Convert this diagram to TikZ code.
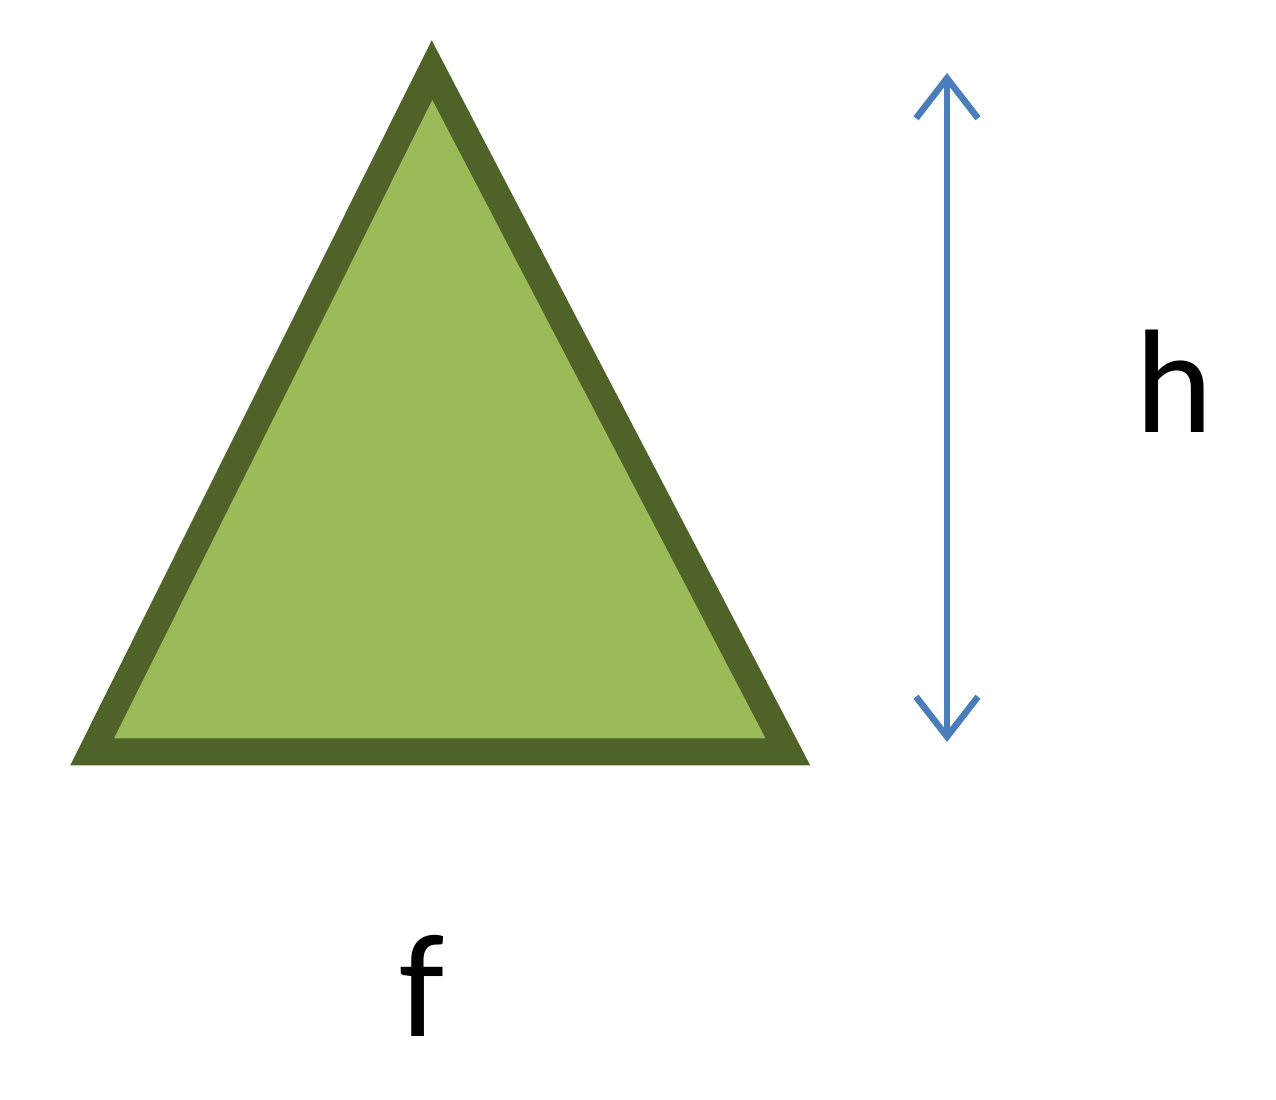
\documentclass[tikz,border=0pt]{standalone}
\usepackage{fontspec}
\setmainfont{Carlito}
\usetikzlibrary{arrows.meta}
\definecolor{trifill}{HTML}{9BBB59}
\definecolor{triedge}{HTML}{4F6228}
\definecolor{arrblue}{HTML}{4A7EBB}
\tikzset{
  tri/.style={fill=trifill, draw=triedge, line width=0.27cm, line join=miter},
  dimarrow/.style={draw=arrblue, line width=0.065cm, {Straight Barb[length=0.4cm,width=0.62cm]}-{Straight Barb[length=0.4cm,width=0.62cm]}},
  lbl/.style={font=\fontsize{42}{50}\selectfont, text=black, inner sep=0pt}
}
\begin{document}
\begin{tikzpicture}
\useasboundingbox (0,0) rectangle (12.76,11);
\coordinate (A) at (4.32,10.30);
\coordinate (B) at (0.92,3.48);
\coordinate (C) at (7.88,3.48);
\draw[tri] (A) -- (B) -- (C) -- cycle;
\coordinate (top) at (9.47,10.27);
\coordinate (bot) at (9.47,3.58);
\draw[dimarrow] (top) -- (bot);
\node[lbl, anchor=base] (h) at (11.74,6.67) {h};
\node[lbl, anchor=base] (f) at (4.22,0.63) {f};
\end{tikzpicture}
\end{document}
